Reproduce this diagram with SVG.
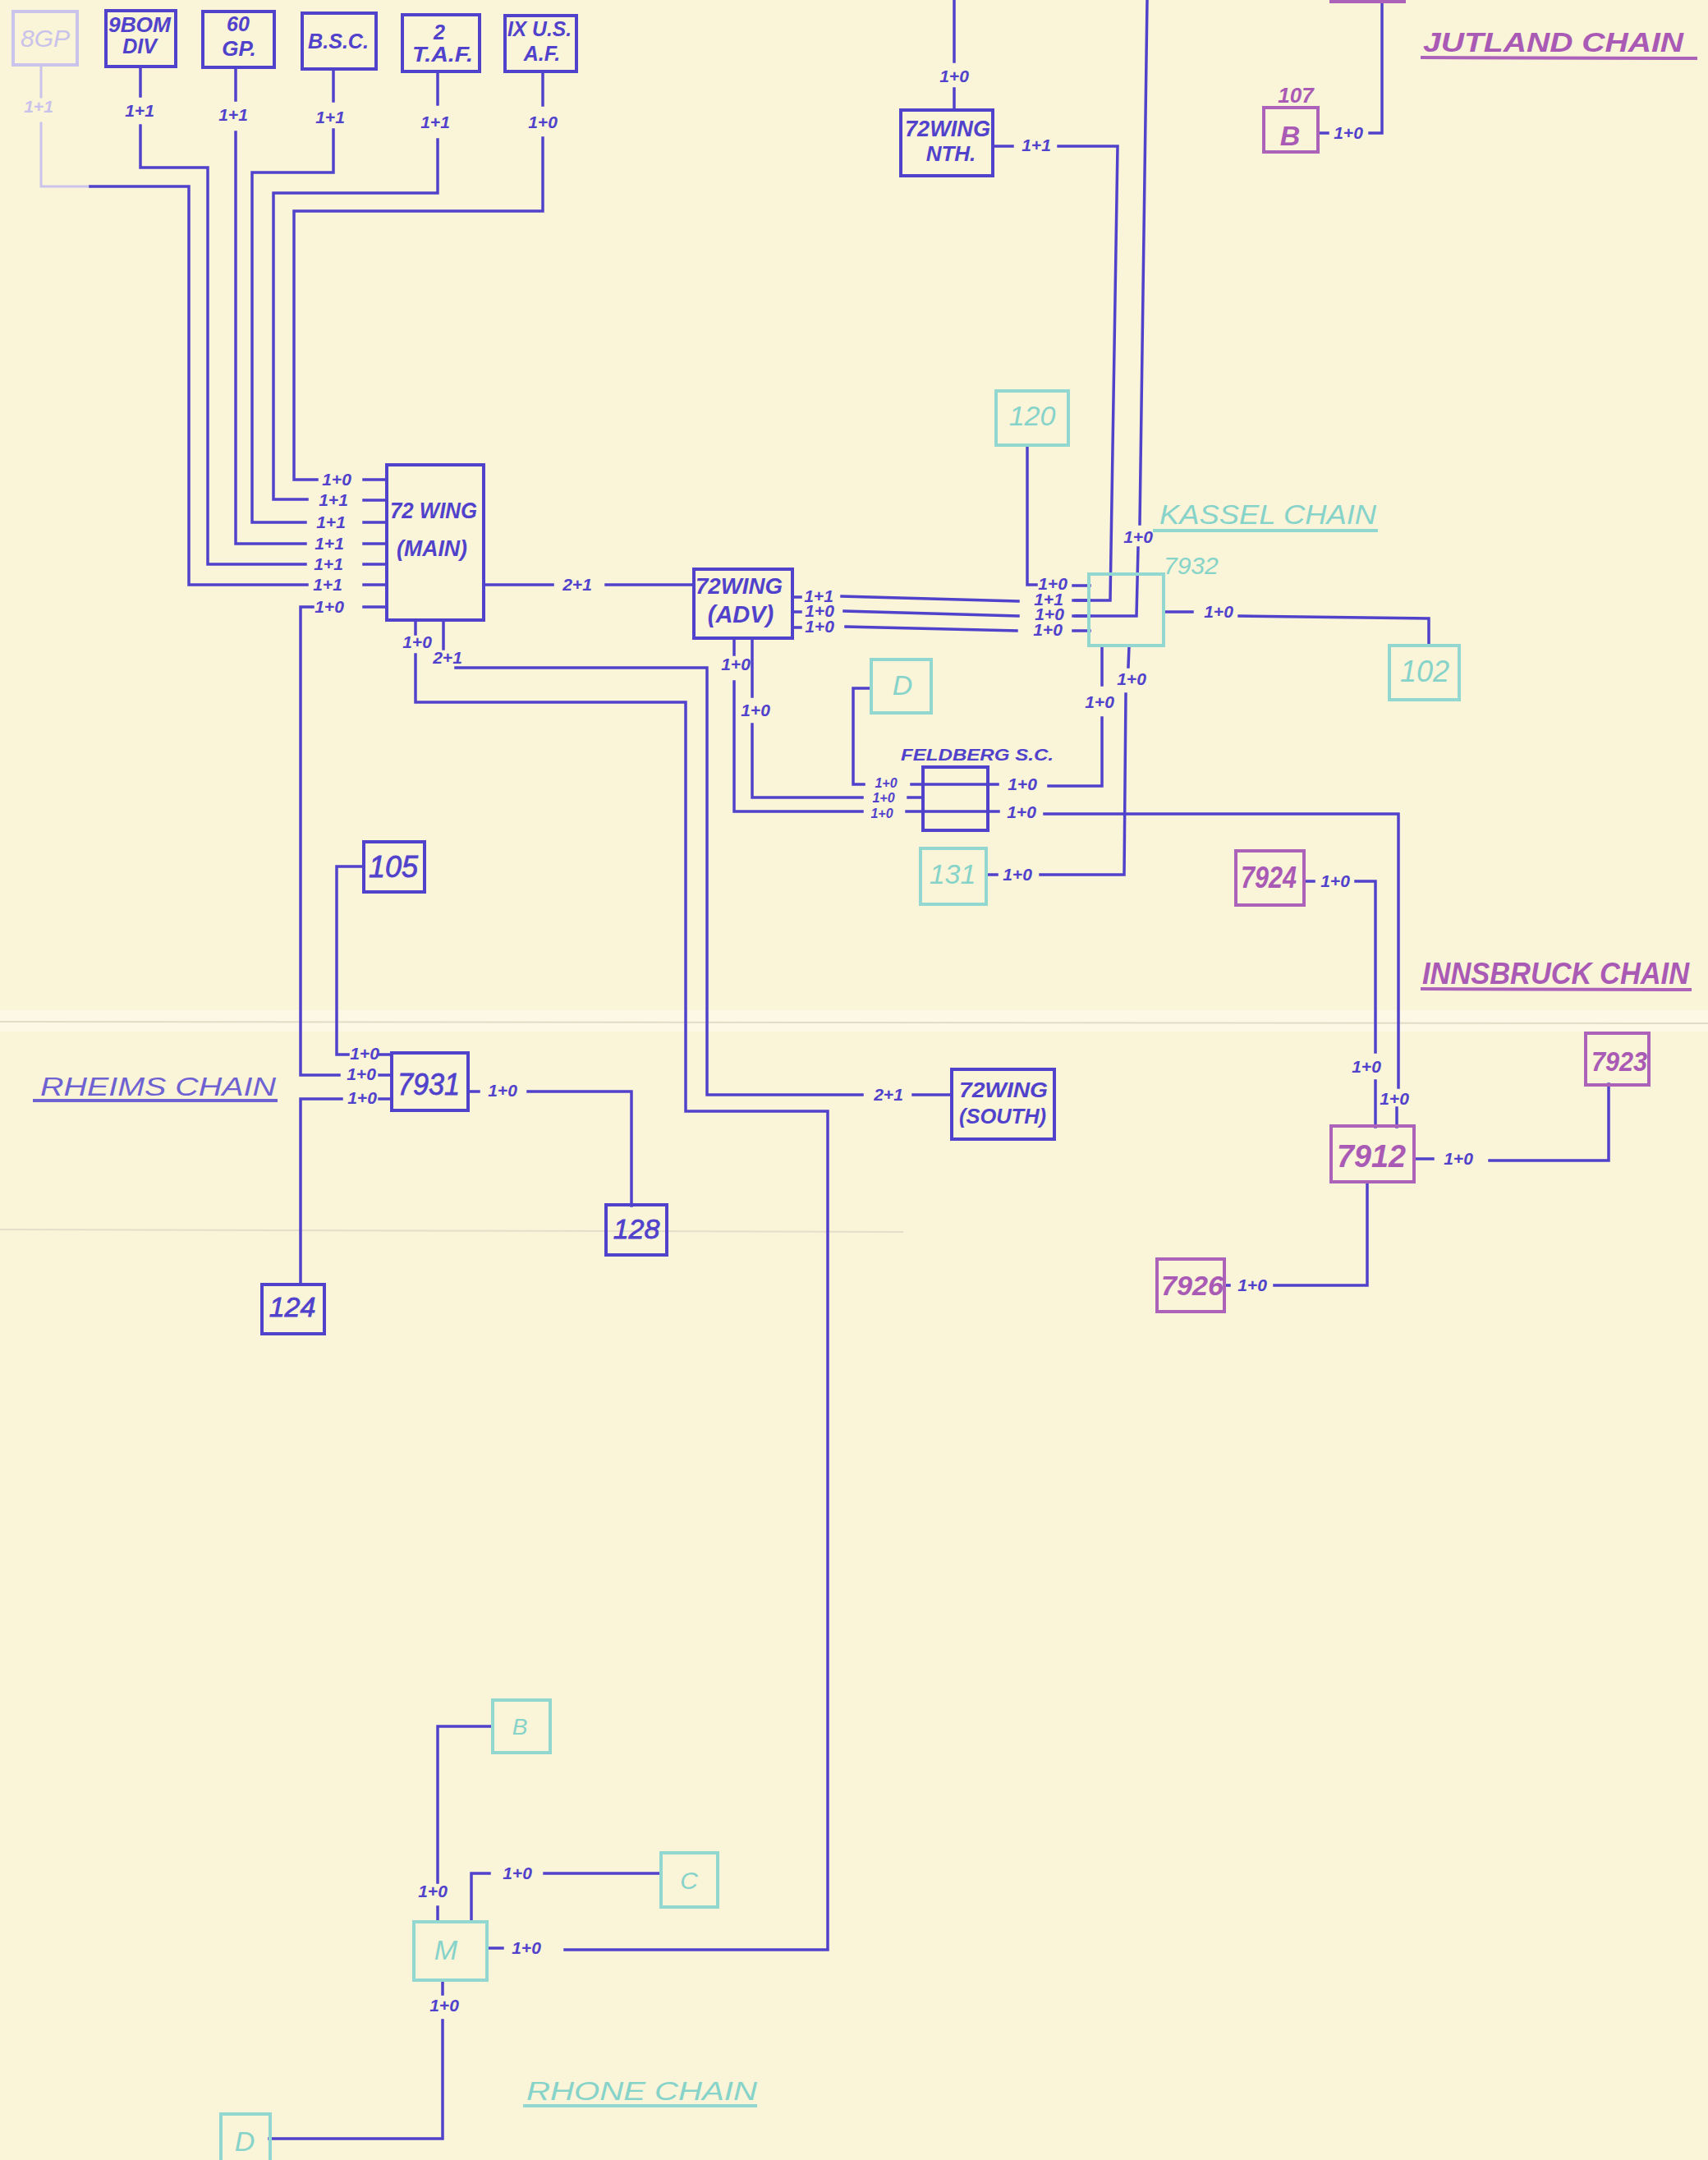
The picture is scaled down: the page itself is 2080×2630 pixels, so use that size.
<svg xmlns="http://www.w3.org/2000/svg" width="2080" height="2630" viewBox="0 0 2080 2630">
<style>
.ln{fill:none;stroke:#5142CC;stroke-width:3.5;stroke-linecap:square;stroke-linejoin:miter}
.fl{fill:none;stroke:#CAC3EC;stroke-width:3;stroke-linecap:square}
.bx{fill:none;stroke-width:4}
.b{stroke:#5142CC}.c{stroke:#92D8D0}.m{stroke:#AC62B8}.f{stroke:#CAC3EC}
.t{font-family:"Liberation Sans",Arial,sans-serif;font-style:italic;font-weight:bold;text-anchor:middle}
.tn{font-family:"Liberation Sans",Arial,sans-serif;font-style:italic;font-weight:normal}
.lb{font-size:21px;fill:#5142CC}
.sm{font-size:16px}
.tb{fill:#5142CC}.tc{fill:#86D3CA}.tm{fill:#A95AB5}.tf{fill:#C9C2EA}
.nb{fill:#5142CC;stroke:#5142CC;stroke-width:0.8}
.ul{fill:none;stroke-width:4}
</style>
<rect x="0" y="0" width="2080" height="2630" fill="#FAF4D8"/>
<rect x="0" y="1230" width="2080" height="26" fill="#FFFFFF" opacity="0.35"/>
<line x1="0" y1="1244" x2="2080" y2="1246" stroke="#E2DCC6" stroke-width="2"/>
<line x1="0" y1="1497" x2="1100" y2="1500" stroke="#E4DECA" stroke-width="2"/>

<g id="connectors">
<path class="fl" d="M50,80 V118 M50,150 V227 H110"/>
<path class="ln" d="M110,227 H230 V712 H374"/>
<path class="ln" d="M171,82 V117 M171,153 V204 H253 V687 H372"/>
<path class="ln" d="M287,83 V122 M287,161 V662 H372"/>
<path class="ln" d="M406,85 V123 M406,158 V210 H307 V636 H372"/>
<path class="ln" d="M533,88 V127 M533,170 V235 H333 V608 H374"/>
<path class="ln" d="M661,88 V128 M661,168 V257 H358 V584 H386"/>
<text class="t tf" style="font-size:21px" x="47" y="137">1+1</text>
<text class="t lb" x="170" y="142">1+1</text>
<text class="t lb" x="284" y="147">1+1</text>
<text class="t lb" x="402" y="150">1+1</text>
<text class="t lb" x="530" y="156">1+1</text>
<text class="t lb" x="661" y="156">1+0</text>
<path class="ln" d="M443,584 H471 M443,609 H471 M443,636 H471 M443,662 H471 M443,687 H471 M443,712 H471 M443,739 H471"/>
<text class="t lb" x="410" y="591">1+0</text>
<text class="t lb" x="406" y="616">1+1</text>
<text class="t lb" x="403" y="643">1+1</text>
<text class="t lb" x="401" y="669">1+1</text>
<text class="t lb" x="400" y="694">1+1</text>
<text class="t lb" x="399" y="719">1+1</text>
<text class="t lb" x="401" y="746">1+0</text>
<path class="ln" d="M381,739 H366 V1309 H413 M462,1309 H476"/>
<text class="t lb" x="440" y="1315">1+0</text>
<path class="ln" d="M442,1055 H410 V1284 H424 M462,1284 H476"/>
<text class="t lb" x="444" y="1290">1+0</text>
<path class="ln" d="M416,1338 H366 V1564 M462,1338 H476"/>
<text class="t lb" x="441" y="1344">1+0</text>
<path class="ln" d="M571,1329 H583 M643,1329 H769 V1468"/>
<text class="t lb" x="612" y="1335">1+0</text>
<path class="ln" d="M590,712 H673 M738,712 H845"/>
<text class="t lb" x="703" y="719">2+1</text>
<path class="ln" d="M506,756 V772 M506,797 V855 H835 V1353 H1008 V2374 H688"/>
<text class="t lb" x="508" y="789">1+0</text>
<path class="ln" d="M540,756 V790 M555,813 H861 V1333 H1050 M1112,1333 H1158"/>
<text class="t lb" x="545" y="808">2+1</text>
<text class="t lb" x="1082" y="1340">2+1</text>
<path class="ln" d="M1162,0 V75 M1162,108 V133"/>
<text class="t lb" x="1162" y="100">1+0</text>
<path class="ln" d="M1211,178 H1233 M1289,178 H1361 L1352,731 H1310"/>
<text class="t lb" x="1262" y="184">1+1</text>
<path class="ln" d="M1397,0 L1388,638 M1386,667 L1384,750 H1310"/>
<text class="t lb" x="1386" y="661">1+0</text>
<path class="ln" d="M965,727 H975 M965,745 H975 M965,764 H975"/>
<text class="t lb" x="997" y="733">1+1</text>
<text class="t lb" x="998" y="751">1+0</text>
<text class="t lb" x="998" y="770">1+0</text>
<path class="ln" d="M1025,726 L1240,732 M1028,744 L1240,750 M1030,763 L1238,768"/>
<text class="t lb" x="1277" y="737">1+1</text>
<text class="t lb" x="1278" y="755">1+0</text>
<text class="t lb" x="1276" y="774">1+0</text>
<path class="ln" d="M1251,542 V712 H1262"/>
<text class="t lb" x="1282" y="718">1+0</text>
<path class="ln" d="M1307,713 H1327 M1307,731 H1327 M1307,750 H1327 M1307,768 H1327"/>
<path class="ln" d="M1418,745 H1452 M1509,750 L1740,753 V785"/>
<text class="t lb" x="1484" y="752">1+0</text>
<path class="ln" d="M894,778 V797 M894,830 V988 H1050 M1104,988 H1124"/>
<text class="t lb" x="896" y="816">1+0</text>
<text class="t lb sm" x="1074" y="996">1+0</text>
<path class="ln" d="M916,778 V848 M916,882 V971 H1050 M1106,971 H1124"/>
<text class="t lb" x="920" y="872">1+0</text>
<text class="t lb sm" x="1076" y="977">1+0</text>
<path class="ln" d="M1061,838 H1039 V955 H1052 M1110,955 H1124"/>
<text class="t lb sm" x="1079" y="959">1+0</text>
<path class="ln" d="M1124,955 H1203 M1124,988 H1203"/>
<path class="ln" d="M1203,955 H1215 M1277,957 H1342 V874 M1342,834 V787"/>
<text class="t lb" x="1245" y="962">1+0</text>
<text class="t lb" x="1339" y="862">1+0</text>
<path class="ln" d="M1203,988 H1216 M1272,991 H1703 V1324 M1701,1349 V1372"/>
<text class="t lb" x="1244" y="996">1+0</text>
<text class="t lb" x="1698" y="1345">1+0</text>
<path class="ln" d="M1203,1065 H1214 M1267,1065 H1369 L1371,845 M1374,812 L1375,787"/>
<text class="t lb" x="1239" y="1072">1+0</text>
<text class="t lb" x="1378" y="834">1+0</text>
<path class="ln" d="M1589,1073 H1600 M1651,1073 H1675 V1281 M1675,1316 V1372"/>
<text class="t lb" x="1626" y="1080">1+0</text>
<text class="t lb" x="1664" y="1306">1+0</text>
<path class="ln" d="M1723,1411 H1745 M1814,1413 H1959 V1320"/>
<text class="t lb" x="1776" y="1418">1+0</text>
<path class="ln" d="M1665,1439 V1565 H1552 M1497,1565 H1493"/>
<text class="t lb" x="1525" y="1572">1+0</text>
<path class="ln" d="M1605,162 H1617 M1668,162 H1683 V0"/>
<text class="t lb" x="1642" y="169">1+0</text>
<path class="ln" d="M600,2102 H533 V2292 M533,2322 V2339"/>
<text class="t lb" x="527" y="2310">1+0</text>
<path class="ln" d="M574,2339 V2281 H596 M663,2281 H805"/>
<text class="t lb" x="630" y="2288">1+0</text>
<path class="ln" d="M593,2372 H612"/>
<text class="t lb" x="641" y="2379">1+0</text>
<path class="ln" d="M539,2411 V2428 M539,2460 V2604 H328"/>
<text class="t lb" x="541" y="2449">1+0</text>
</g>

<g id="n-8gp"><rect class="bx f" x="16" y="14" width="78" height="65"/><text class="tn tf" style="font-size:30px;text-anchor:middle" x="55" y="57">8GP</text></g>
<g id="n-9bom"><rect class="bx b" x="129" y="13" width="85" height="68"/><text class="t tb" style="font-size:25px" x="170" y="39" textLength="76" lengthAdjust="spacingAndGlyphs">9BOM</text><text class="t tb" style="font-size:25px" x="170" y="65">DIV</text></g>
<g id="n-60gp"><rect class="bx b" x="247" y="14" width="87" height="68"/><text class="t tb" style="font-size:25px" x="290" y="38">60</text><text class="t tb" style="font-size:26px" x="291" y="68">GP.</text></g>
<g id="n-bsc"><rect class="bx b" x="368" y="16" width="90" height="68"/><text class="t tb" style="font-size:25px" x="412" y="59" textLength="74" lengthAdjust="spacingAndGlyphs">B.S.C.</text></g>
<g id="n-2taf"><rect class="bx b" x="490" y="18" width="94" height="69"/><text class="t tb" style="font-size:25px" x="535" y="48">2</text><text class="t tb" style="font-size:25px" x="539" y="75" textLength="74" lengthAdjust="spacingAndGlyphs">T.A.F.</text></g>
<g id="n-ixusaf"><rect class="bx b" x="615" y="19" width="87" height="68"/><text class="t tb" style="font-size:25px" x="657" y="44" textLength="78" lengthAdjust="spacingAndGlyphs">IX U.S.</text><text class="t tb" style="font-size:25px" x="660" y="74">A.F.</text></g>

<g id="n-72nth"><rect class="bx b" x="1097" y="134" width="112" height="80"/><text class="t tb" style="font-size:27px" x="1154" y="166" textLength="104" lengthAdjust="spacingAndGlyphs">72WING</text><text class="t tb" style="font-size:26px" x="1158" y="196">NTH.</text></g>
<g id="n-72main"><rect class="bx b" x="471" y="566" width="118" height="189"/><text class="t tb" style="font-size:28px" x="528" y="631" textLength="106" lengthAdjust="spacingAndGlyphs">72 WING</text><text class="t tb" style="font-size:27px" x="526" y="677" textLength="86" lengthAdjust="spacingAndGlyphs">(MAIN)</text></g>
<g id="n-72adv"><rect class="bx b" x="845" y="693" width="120" height="84"/><text class="t tb" style="font-size:27px" x="900" y="723" textLength="106" lengthAdjust="spacingAndGlyphs">72WING</text><text class="t tb" style="font-size:29px" x="902" y="758">(ADV)</text></g>
<g id="n-72south"><rect class="bx b" x="1159" y="1302" width="125" height="85"/><text class="t tb" style="font-size:25px" x="1222" y="1336" textLength="108" lengthAdjust="spacingAndGlyphs">72WING</text><text class="t tb" style="font-size:26px" x="1221" y="1368" textLength="106" lengthAdjust="spacingAndGlyphs">(SOUTH)</text></g>

<g id="n-120"><rect class="bx c" x="1213" y="476" width="88" height="66"/><text class="tn tc" style="font-size:34px;text-anchor:middle" x="1257" y="518">120</text></g>
<g id="n-7932"><rect class="bx c" x="1326" y="699" width="91" height="87"/><text class="tn tc" style="font-size:30px" x="1417" y="699">7932</text></g>
<g id="n-102"><rect class="bx c" x="1692" y="786" width="85" height="66"/><text class="tn tc" style="font-size:36px;text-anchor:middle" x="1735" y="830">102</text></g>
<g id="n-d-kassel"><rect class="bx c" x="1061" y="803" width="73" height="65"/><text class="tn tc" style="font-size:34px;text-anchor:middle" x="1099" y="846">D</text></g>
<g id="n-feldberg"><rect class="bx b" x="1124" y="934" width="79" height="77"/><text class="t tb" style="font-size:21px" x="1190" y="926" textLength="186" lengthAdjust="spacingAndGlyphs">FELDBERG S.C.</text></g>
<g id="n-131"><rect class="bx c" x="1121" y="1033" width="80" height="68"/><text class="tn tc" style="font-size:34px;text-anchor:middle" x="1160" y="1076">131</text></g>
<text class="tn tc" style="font-size:34px" x="1412" y="638" textLength="264" lengthAdjust="spacingAndGlyphs">KASSEL CHAIN</text>
<line class="ul c" x1="1404" y1="646" x2="1678" y2="646"/>

<g id="n-jut-top"><rect class="bx m" x="1621" y="-40" width="89" height="42"/></g>
<g id="n-b107"><rect class="bx m" x="1539" y="131" width="66" height="54"/><text class="t tm" style="font-size:34px" x="1571" y="177">B</text><text class="t tm" style="font-size:26px" x="1578" y="125">107</text></g>
<text class="tn tm" style="font-size:34px;font-weight:bold" x="1733" y="63" textLength="317" lengthAdjust="spacingAndGlyphs">JUTLAND CHAIN</text>
<line class="ul m" x1="1730" y1="70" x2="2067" y2="71"/>

<g id="n-7924"><rect class="bx m" x="1505" y="1036" width="83" height="66"/><text class="t tm" style="font-size:36px" x="1545" y="1081" textLength="68" lengthAdjust="spacingAndGlyphs">7924</text></g>
<g id="n-7912"><rect class="bx m" x="1621" y="1371" width="101" height="68"/><text class="t tm" style="font-size:38px" x="1670" y="1421" textLength="84" lengthAdjust="spacingAndGlyphs">7912</text></g>
<g id="n-7923"><rect class="bx m" x="1931" y="1258" width="77" height="63"/><text class="t tm" style="font-size:34px" x="1972" y="1304" textLength="68" lengthAdjust="spacingAndGlyphs">7923</text></g>
<g id="n-7926"><rect class="bx m" x="1409" y="1533" width="82" height="64"/><text class="t tm" style="font-size:34px" x="1452" y="1577" textLength="76" lengthAdjust="spacingAndGlyphs">7926</text></g>
<text class="tn tm" style="font-size:36px;font-weight:bold" x="1732" y="1198" textLength="325" lengthAdjust="spacingAndGlyphs">INNSBRUCK CHAIN</text>
<line class="ul m" x1="1730" y1="1204" x2="2060" y2="1205"/>

<g id="n-105"><rect class="bx b" x="443" y="1025" width="74" height="61"/><text class="tn nb" style="font-size:36px;text-anchor:middle" x="479" y="1068">105</text></g>
<g id="n-7931"><rect class="bx b" x="477" y="1282" width="93" height="70"/><text class="tn nb" style="font-size:36px;text-anchor:middle" x="522" y="1333" textLength="76" lengthAdjust="spacingAndGlyphs">7931</text></g>
<g id="n-128"><rect class="bx b" x="738" y="1467" width="74" height="61"/><text class="tn nb" style="font-size:34px;text-anchor:middle" x="775" y="1508">128</text></g>
<g id="n-124"><rect class="bx b" x="319" y="1564" width="76" height="60"/><text class="tn nb" style="font-size:34px;text-anchor:middle" x="356" y="1603">124</text></g>
<text class="tn" style="font-size:32px;fill:#6E62D2" x="49" y="1334" textLength="287" lengthAdjust="spacingAndGlyphs">RHEIMS CHAIN</text>
<line class="ul" stroke="#6E62D2" x1="40" y1="1340" x2="338" y2="1340"/>

<g id="n-b-rhone"><rect class="bx c" x="600" y="2070" width="70" height="64"/><text class="tn tc" style="font-size:28px;text-anchor:middle" x="633" y="2112">B</text></g>
<g id="n-c"><rect class="bx c" x="805" y="2256" width="69" height="66"/><text class="tn tc" style="font-size:30px;text-anchor:middle" x="839" y="2300">C</text></g>
<g id="n-m"><rect class="bx c" x="504" y="2340" width="89" height="71"/><text class="tn tc" style="font-size:34px;text-anchor:middle" x="543" y="2386">M</text></g>
<g id="n-d-rhone"><rect class="bx c" x="269" y="2574" width="60" height="70"/><text class="tn tc" style="font-size:34px;text-anchor:middle" x="298" y="2619">D</text></g>
<text class="tn tc" style="font-size:32px" x="641" y="2557" textLength="281" lengthAdjust="spacingAndGlyphs">RHONE CHAIN</text>
<line class="ul c" x1="637" y1="2564" x2="922" y2="2564"/>
</svg>
